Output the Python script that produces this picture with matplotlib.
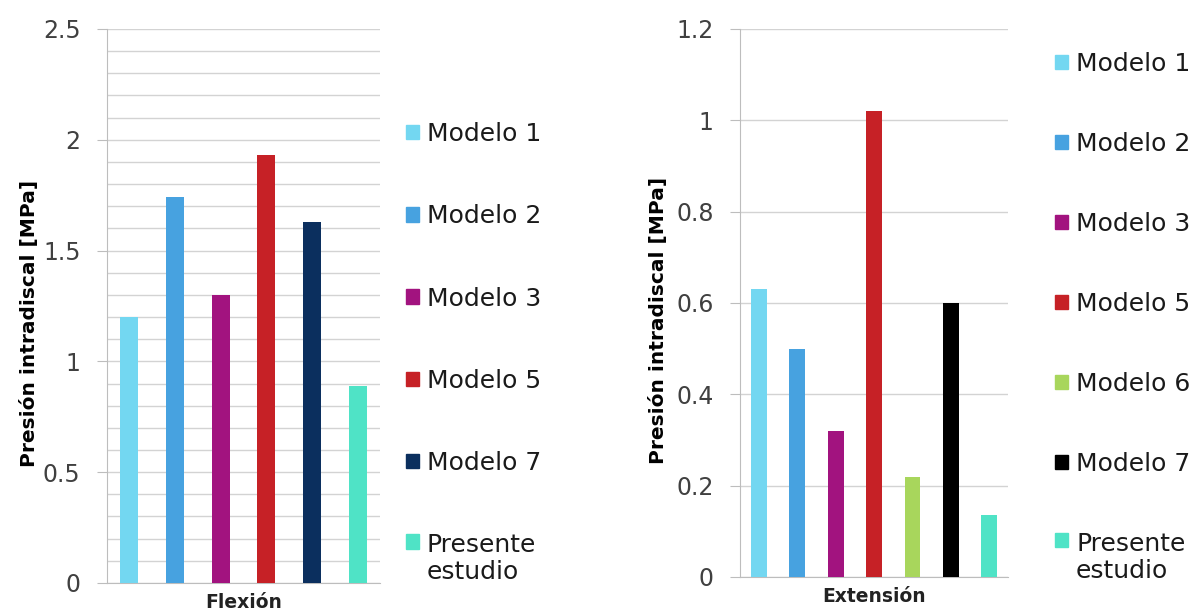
import numpy as np
import matplotlib
matplotlib.use("Agg")
import matplotlib.pyplot as plt
from matplotlib.patches import Patch, Rectangle
from matplotlib.legend_handler import HandlerPatch
from matplotlib.ticker import MultipleLocator

# Flexion chart
flex_labels = ["Modelo 1", "Modelo 2", "Modelo 3", "Modelo 5", "Modelo 7", "Presente\nestudio"]
flex_values = [1.20, 1.74, 1.30, 1.93, 1.63, 0.89]
flex_colors = ["#73D7F1", "#47A2E0", "#A2137F", "#C62126", "#0B2F5E", "#4FE3C6"]

# Extension chart
ext_labels = ["Modelo 1", "Modelo 2", "Modelo 3", "Modelo 5", "Modelo 6", "Modelo 7", "Presente\nestudio"]
ext_values = [0.63, 0.50, 0.32, 1.02, 0.22, 0.60, 0.135]
ext_colors = ["#73D7F1", "#47A2E0", "#A2137F", "#C62126", "#A8D65C", "#000000", "#4FE3C6"]

ylabel = "Presión intradiscal [MPa]"
grid_col = "#D3D3D3"
axis_col = "#BDBDBD"


class FirstLineHandler(HandlerPatch):
    # puts the square next to the first line of a two-line label
    def __init__(self, shift, **kw):
        super().__init__(**kw)
        self.shift = shift

    def create_artists(self, legend, orig_handle, xdescent, ydescent,
                       width, height, fontsize, trans):
        p = Rectangle((-xdescent, -ydescent + self.shift), width, height)
        self.update_prop(p, orig_handle, legend)
        p.set_transform(trans)
        return [p]


fig = plt.figure(figsize=(12.01, 6.10), dpi=100)


def draw(ax, labels, values, colors, xlabel, ymax, major, minor, width):
    x = np.arange(len(values))
    ax.bar(x, values, width=width, color=colors, zorder=3)
    ax.set_xlim(-0.49, len(values) - 0.51)
    ax.set_ylim(0, ymax)
    ax.yaxis.set_major_locator(MultipleLocator(major))
    if minor:
        ax.yaxis.set_minor_locator(MultipleLocator(minor))
        ax.grid(True, axis="y", which="minor", color=grid_col, lw=1.0, zorder=0)
        ax.tick_params(axis="y", which="minor", length=0)
    ax.grid(True, axis="y", which="major", color=grid_col, lw=1.0, zorder=0)
    ax.set_yticklabels([("%g" % v) for v in ax.get_yticks()])
    ax.set_xticks([])
    for s in ["top", "right"]:
        ax.spines[s].set_visible(False)
    ax.spines["left"].set_color(axis_col)
    ax.spines["bottom"].set_color(axis_col)
    ax.tick_params(axis="y", which="major", length=7, color=axis_col,
                   labelsize=17, labelcolor="#404040", pad=12)
    ax.set_xlabel(xlabel, fontsize=13.5, fontweight="bold", labelpad=7, color="#222222")
    ax.set_ylabel(ylabel, fontsize=14.5, fontweight="bold")

    handles = [Patch(color=c) for c in colors]
    hmap = {handles[-1]: FirstLineHandler(13)}
    return handles, hmap


def legend(ax, handles, labels, hmap, anchor, spacing):
    leg = ax.legend(handles, labels, loc="upper left", bbox_to_anchor=anchor,
                    bbox_transform=fig.transFigure, frameon=False, fontsize=18,
                    handlelength=0.52, handleheight=0.52, handletextpad=0.32,
                    labelspacing=spacing, borderaxespad=0, borderpad=0,
                    handler_map=hmap)
    for t in leg.get_texts():
        t.set_linespacing(1.15)
        t.set_color("#1A1A1A")
    return leg


ax1 = fig.add_axes([0.0891, 0.0443, 0.2273, 0.9082])
h1, m1 = draw(ax1, flex_labels, flex_values, flex_colors, "Flexión", 2.5, 0.5, 0.1, 0.395)
ax1.yaxis.set_label_coords(-0.25, 0.469)
legend(ax1, h1, flex_labels, m1, (0.338, 0.80), 2.33)

ax2 = fig.add_axes([0.6162, 0.0541, 0.2231, 0.8984])
h2, m2 = draw(ax2, ext_labels, ext_values, ext_colors, "Extensión", 1.2, 0.2, None, 0.41)
ax2.yaxis.set_label_coords(-0.27, 0.469)
legend(ax2, h2, ext_labels, m2, (0.8785, 0.915), 2.24)

fig.savefig("out.png", dpi=100)
